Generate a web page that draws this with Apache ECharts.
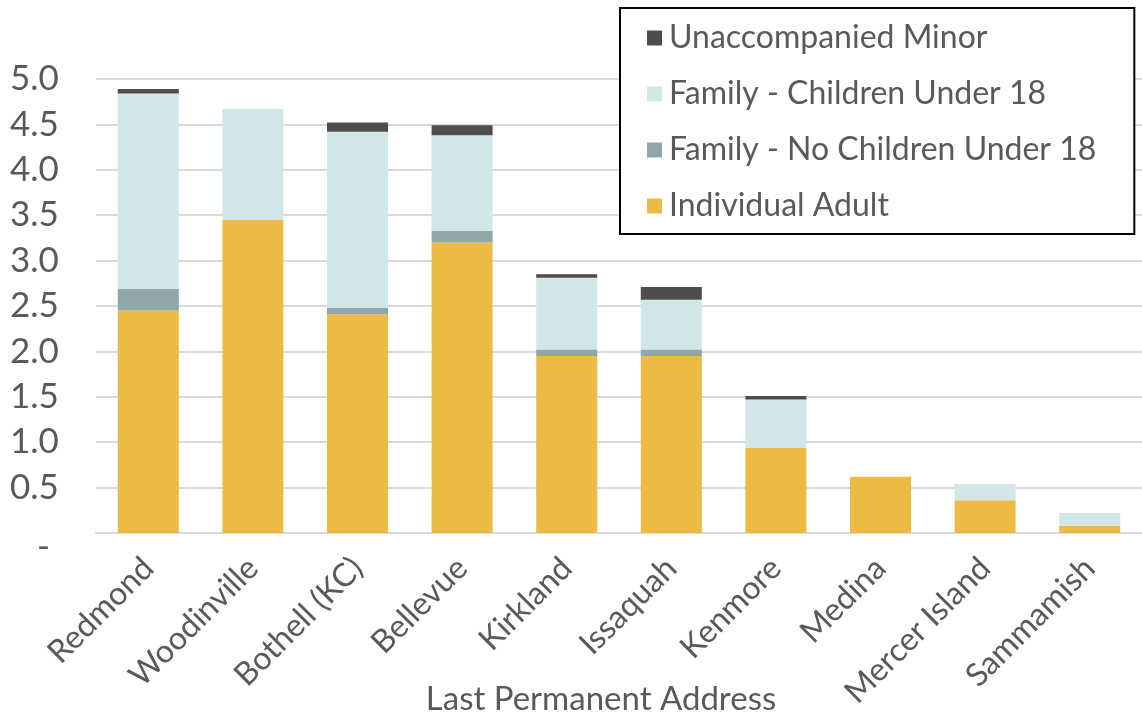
<!DOCTYPE html>
<html><head><meta charset="utf-8">
<script src="https://cdn.jsdelivr.net/npm/echarts@6/dist/echarts.min.js"></script>
<style>html,body{margin:0;padding:0;background:#fff}#c{width:1142px;height:721px}</style>
</head><body><div id="c"></div>
<script>
const categories = ["Redmond","Woodinville","Bothell (KC)","Bellevue","Kirkland","Issaquah","Kenmore","Medina","Mercer Island","Sammamish"];
const individualAdult = [2.45,3.45,2.41,3.20,1.95,1.95,0.94,0.62,0.36,0.08];
const familyNoChildren = [0.24,0,0.07,0.13,0.07,0.07,0,0,0,0];
const familyChildren = [2.15,1.22,1.94,1.05,0.79,0.55,0.53,0,0.18,0.14];
const unaccompaniedMinor = [0.05,0,0.10,0.11,0.04,0.14,0.04,0,0,0];
const yTicks = [0,0.5,1,1.5,2,2.5,3,3.5,4,4.5,5];
const xTitle = "Last Permanent Address";
const names = ["Individual Adult","Family - No Children Under 18","Family - Children Under 18","Unaccompanied Minor"];
const colors = ["#ECBA45","#91A6A8","#D0E6E7","#4D4D4D"];
const font = "Lato, 'Noto Sans', sans-serif";
const chart = echarts.init(document.getElementById('c'));
const seriesData = [individualAdult, familyNoChildren, familyChildren, unaccompaniedMinor];
const yBase = {type:'value',min:yTicks[0],max:yTicks[yTicks.length-1],interval:0.5,
  position:'left',axisLine:{show:false},axisTick:{show:false}};
chart.setOption({
  animation:false,
  textStyle:{fontFamily:font},
  title:{text:xTitle,left:601,top:683,textAlign:'center',padding:0,
    textStyle:{fontFamily:font,fontSize:33,fontWeight:'normal',color:'#595959'}},
  legend:{
    data:[names[3],names[2],names[1],names[0]],
    orient:'vertical', left:620, top:8,
    borderColor:'#000', borderWidth:2,
    padding:[14,38,12,27],
    itemWidth:15, itemHeight:15, itemGap:24,
    icon:'rect',
    textStyle:{fontFamily:font,fontSize:32,color:'#595959',padding:[0,0,0,2]},
    backgroundColor:'#fff'
  },
  grid:{left:96,right:0,top:79,bottom:188,containLabel:false},
  xAxis:{type:'category',data:categories,
    axisLine:{lineStyle:{color:'#D9D9D9',width:2}},
    axisTick:{show:false},
    axisLabel:{rotate:45,fontSize:32,color:'#595959',fontFamily:font,margin:30,interval:0}},
  yAxis:[
    Object.assign({},yBase,{
      splitLine:{lineStyle:{color:'#D9D9D9',width:2}},
      axisLabel:{align:'left',margin:86,fontSize:35,color:'#595959',fontFamily:font,
        formatter:v=>v===0?'':v.toFixed(1)}}),
    Object.assign({},yBase,{
      splitLine:{show:false},
      axisLabel:{align:'left',margin:59,fontSize:35,color:'#595959',fontFamily:font,
        formatter:v=>v===0?'{z|-}':'',
        rich:{z:{fontSize:35,color:'#595959',fontFamily:font,padding:[28,0,0,0]}}}})
  ],
  series:seriesData.map((d,i)=>({
    name:names[i],type:'bar',stack:'s',data:d,barWidth:61,
    itemStyle:{color:colors[i]}
  }))
});
</script></body></html>
